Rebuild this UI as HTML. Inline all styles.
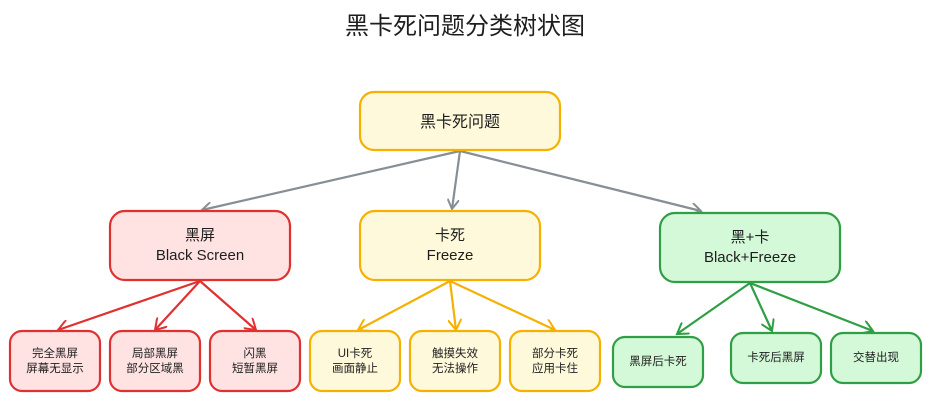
<!DOCTYPE html>
<html><head><meta charset="utf-8"><style>
body{margin:0;background:#fff;width:930px;height:401px;overflow:hidden;font-family:"Liberation Sans","Noto Sans CJK SC",sans-serif}
</style></head><body>
<svg width="930" height="401" viewBox="0 0 930 401" xmlns="http://www.w3.org/2000/svg" font-family="Liberation Sans, Noto Sans CJK SC, sans-serif">
<defs>
<marker id="ag" markerWidth="12" markerHeight="12" refX="10" refY="6" orient="auto" markerUnits="userSpaceOnUse"><path d="M0,0 L10,6 L0,12" fill="none" stroke="#868e96" stroke-width="2"/></marker>
<marker id="ar" markerWidth="14" markerHeight="14" refX="11" refY="7" orient="auto" markerUnits="userSpaceOnUse"><path d="M0,0 L11,7 L0,14" fill="none" stroke="#e03131" stroke-width="2"/></marker>
<marker id="ay" markerWidth="14" markerHeight="14" refX="11" refY="7" orient="auto" markerUnits="userSpaceOnUse"><path d="M0,0 L11,7 L0,14" fill="none" stroke="#f5b000" stroke-width="2"/></marker>
<marker id="agr" markerWidth="14" markerHeight="14" refX="11" refY="7" orient="auto" markerUnits="userSpaceOnUse"><path d="M0,0 L11,7 L0,14" fill="none" stroke="#2f9e44" stroke-width="2"/></marker>
</defs>
<text x="465" y="34" text-anchor="middle" font-size="24" fill="#1e1e1e">黑卡死问题分类树状图</text>

<g fill="none" stroke-width="2.2">
<line x1="460" y1="151" x2="202" y2="210" stroke="#868e96" marker-end="url(#ag)"/>
<line x1="460" y1="151" x2="452" y2="209" stroke="#868e96" marker-end="url(#ag)"/>
<line x1="460" y1="151" x2="701" y2="211" stroke="#868e96" marker-end="url(#ag)"/>
<line x1="200" y1="281" x2="58" y2="330" stroke="#e03131" marker-end="url(#ar)"/>
<line x1="200" y1="281" x2="155" y2="330" stroke="#e03131" marker-end="url(#ar)"/>
<line x1="200" y1="281" x2="256" y2="330" stroke="#e03131" marker-end="url(#ar)"/>
<line x1="450" y1="281" x2="358" y2="330" stroke="#f5b000" marker-end="url(#ay)"/>
<line x1="450" y1="281" x2="456" y2="330" stroke="#f5b000" marker-end="url(#ay)"/>
<line x1="450" y1="281" x2="555" y2="330" stroke="#f5b000" marker-end="url(#ay)"/>
<line x1="750" y1="283" x2="677" y2="334" stroke="#2f9e44" marker-end="url(#agr)"/>
<line x1="750" y1="283" x2="772" y2="331" stroke="#2f9e44" marker-end="url(#agr)"/>
<line x1="750" y1="283" x2="873" y2="331" stroke="#2f9e44" marker-end="url(#agr)"/>
</g>

<g stroke-width="2.2">
<rect x="360" y="92" width="200" height="58" rx="14" fill="#fff9db" stroke="#f5b000"/>
<rect x="110" y="211" width="180" height="69" rx="15" fill="#ffe3e3" stroke="#e03131"/>
<rect x="360" y="211" width="180" height="69" rx="15" fill="#fff9db" stroke="#f5b000"/>
<rect x="660" y="213" width="180" height="69" rx="15" fill="#d3f9d8" stroke="#2f9e44"/>
<rect x="10" y="331" width="90" height="60" rx="12" fill="#ffe3e3" stroke="#e03131"/>
<rect x="110" y="331" width="90" height="60" rx="12" fill="#ffe3e3" stroke="#e03131"/>
<rect x="210" y="331" width="90" height="60" rx="12" fill="#ffe3e3" stroke="#e03131"/>
<rect x="310" y="331" width="90" height="60" rx="12" fill="#fff9db" stroke="#f5b000"/>
<rect x="410" y="331" width="90" height="60" rx="12" fill="#fff9db" stroke="#f5b000"/>
<rect x="510" y="331" width="90" height="60" rx="12" fill="#fff9db" stroke="#f5b000"/>
<rect x="613" y="337" width="90" height="50" rx="12" fill="#d3f9d8" stroke="#2f9e44"/>
<rect x="731" y="333" width="90" height="50" rx="12" fill="#d3f9d8" stroke="#2f9e44"/>
<rect x="831" y="333" width="90" height="50" rx="12" fill="#d3f9d8" stroke="#2f9e44"/>
</g>

<g fill="#1e1e1e" text-anchor="middle">
<text x="460" y="127" font-size="16">黑卡死问题</text>
<text x="200" y="240" font-size="15">黑屏</text>
<text x="200" y="260" font-size="15">Black Screen</text>
<text x="450" y="240" font-size="15">卡死</text>
<text x="450" y="260" font-size="15">Freeze</text>
<text x="750" y="242" font-size="15">黑+卡</text>
<text x="750" y="262" font-size="15">Black+Freeze</text>
<g font-size="11.5">
<text x="55" y="357">完全黑屏</text><text x="55" y="372">屏幕无显示</text>
<text x="155" y="357">局部黑屏</text><text x="155" y="372">部分区域黑</text>
<text x="255" y="357">闪黑</text><text x="255" y="372">短暂黑屏</text>
<text x="355" y="357">UI卡死</text><text x="355" y="372">画面静止</text>
<text x="455" y="357">触摸失效</text><text x="455" y="372">无法操作</text>
<text x="555" y="357">部分卡死</text><text x="555" y="372">应用卡住</text>
<text x="658" y="365">黑屏后卡死</text>
<text x="776" y="361">卡死后黑屏</text>
<text x="876" y="361">交替出现</text>
</g>
</g>
</svg>
</body></html>
